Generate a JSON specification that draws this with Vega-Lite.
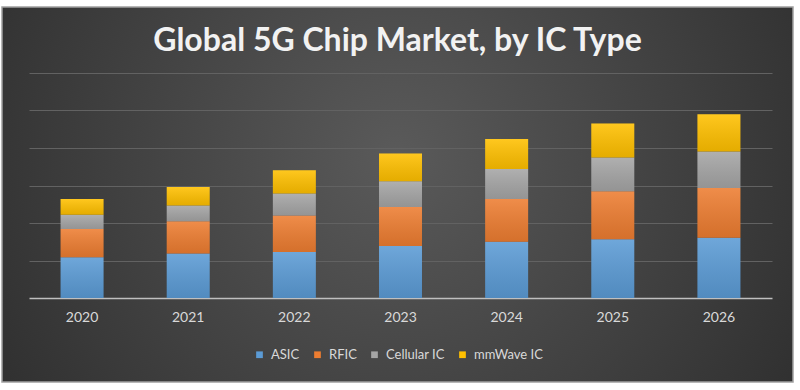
{
  "$schema": "https://vega.github.io/schema/vega-lite/v6.json",
  "width": 791,
  "height": 375,
  "autosize": {"type": "none"},
  "padding": {"left": 2, "top": 7, "right": 7, "bottom": 8},
  "background": "#ffffff",
  "title": {"text": "Global 5G Chip Market, by IC Type", "anchor": "middle", "offset": -51, "color": "#f2f2f2", "font": "Lato", "fontSize": 32, "fontWeight": "bold"},
  "data": {"values": [
    {"year": "2020", "series": "ASIC", "value": 10.85},
    {"year": "2020", "series": "RFIC", "value": 7.55},
    {"year": "2020", "series": "Cellular IC", "value": 3.8},
    {"year": "2020", "series": "mmWave IC", "value": 4.2},
    {"year": "2021", "series": "ASIC", "value": 11.9},
    {"year": "2021", "series": "RFIC", "value": 8.6},
    {"year": "2021", "series": "Cellular IC", "value": 4.2},
    {"year": "2021", "series": "mmWave IC", "value": 4.9},
    {"year": "2022", "series": "ASIC", "value": 12.3},
    {"year": "2022", "series": "RFIC", "value": 9.7},
    {"year": "2022", "series": "Cellular IC", "value": 5.9},
    {"year": "2022", "series": "mmWave IC", "value": 6.2},
    {"year": "2023", "series": "ASIC", "value": 13.9},
    {"year": "2023", "series": "RFIC", "value": 10.4},
    {"year": "2023", "series": "Cellular IC", "value": 6.85},
    {"year": "2023", "series": "mmWave IC", "value": 7.4},
    {"year": "2024", "series": "ASIC", "value": 15.0},
    {"year": "2024", "series": "RFIC", "value": 11.4},
    {"year": "2024", "series": "Cellular IC", "value": 8.0},
    {"year": "2024", "series": "mmWave IC", "value": 8.0},
    {"year": "2025", "series": "ASIC", "value": 15.7},
    {"year": "2025", "series": "RFIC", "value": 12.8},
    {"year": "2025", "series": "Cellular IC", "value": 9.0},
    {"year": "2025", "series": "mmWave IC", "value": 9.05},
    {"year": "2026", "series": "ASIC", "value": 16.1},
    {"year": "2026", "series": "RFIC", "value": 13.25},
    {"year": "2026", "series": "Cellular IC", "value": 9.7},
    {"year": "2026", "series": "mmWave IC", "value": 9.95}
  ]},
  "transform": [
    {"calculate": "indexof(['ASIC','RFIC','Cellular IC','mmWave IC'], datum.series)", "as": "ord"},
    {"stack": "value", "groupby": ["year"], "sort": [{"field": "ord", "order": "ascending"}], "as": ["v0", "v1"]}
  ],
  "encoding": {
    "x": {
      "field": "year", "type": "nominal",
      "scale": {"range": [27, 770], "paddingInner": 0.595, "paddingOuter": 0.2975},
      "axis": {"title": null, "labelAngle": 0, "ticks": false, "offset": -84, "domainColor": "#bfbfbf", "domainWidth": 1.5, "labelColor": "#d9d9d9", "labelFont": "Lato", "labelFontSize": 14, "labelPadding": 12, "grid": false}
    },
    "y": {
      "field": "v1", "type": "quantitative",
      "scale": {"domain": [0, 60], "range": [291, 66], "nice": false},
      "axis": {"title": null, "labels": false, "ticks": false, "domain": false, "grid": true, "gridColor": "#626262", "gridWidth": 1.2, "values": [10, 20, 30, 40, 50, 60]}
    },
    "y2": {"field": "v0"}
  },
  "layer": [
    {
      "mark": {"type": "bar"},
      "encoding": {
        "color": {
          "field": "series", "type": "nominal",
          "scale": {"domain": ["ASIC", "RFIC", "Cellular IC", "mmWave IC"], "range": ["#5B9BD5", "#ED7D31", "#A5A5A5", "#FFC000"]},
          "legend": {"orient": "none", "legendX": 251, "legendY": 341, "direction": "horizontal", "title": null, "symbolType": "square", "symbolSize": 45, "symbolStrokeWidth": 0, "labelColor": "#d9d9d9", "labelFont": "Lato", "labelFontSize": 13, "columnPadding": 11, "labelOffset": 5}
        }
      }
    },
    {
      "mark": {"type": "bar", "fill": {"gradient": "linear", "x1": 0, "y1": 0, "x2": 0, "y2": 1, "stops": [{"offset": 0, "color": "rgba(255,255,255,0.12)"}, {"offset": 1, "color": "rgba(0,0,0,0.1)"}]}},
      "encoding": {}
    }
  ],
  "view": {
    "fill": {"gradient": "radial", "x1": 0.5, "y1": 0.45, "r1": 0, "x2": 0.5, "y2": 0.45, "r2": 0.72, "stops": [{"offset": 0, "color": "#5a5a5a"}, {"offset": 1, "color": "#262626"}]},
    "stroke": "#a0a0a0",
    "strokeWidth": 1.5
  }
}
